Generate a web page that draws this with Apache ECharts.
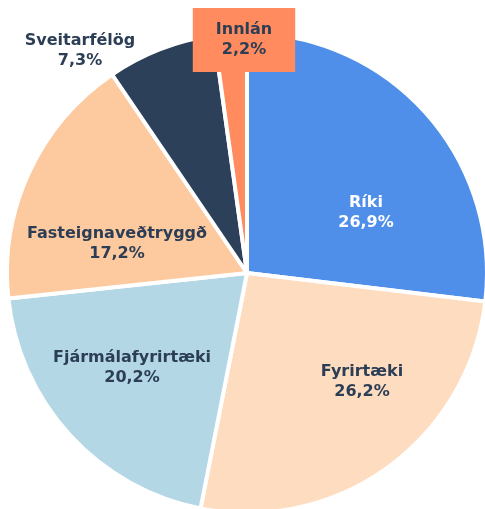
<!DOCTYPE html>
<html>
<head>
<meta charset="utf-8">
<script src="https://cdn.jsdelivr.net/npm/echarts@6/dist/echarts.min.js"></script>
<style>
  html, body { margin: 0; padding: 0; background: #fff; }
  #chart { width: 485px; height: 509px; }
</style>
</head>
<body>
<div id="chart"></div>
<script>
// Portfolio breakdown by counterparty type (percent)
const categories = ['Ríki', 'Fyrirtæki', 'Fjármálafyrirtæki', 'Fasteignaveðtryggð', 'Sveitarfélög', 'Innlán'];
const shares = [26.9, 26.2, 20.2, 17.2, 7.3, 2.2];

const sliceColors = ['#4F8FEA', '#FEDCC0', '#B4D7E6', '#FDC99E', '#2C4059', '#FF8B5E'];
const labelColors = ['#ffffff', '#2C3E55', '#2C3E55', '#2C3E55', '#2C3E55', '#2C3E55'];
// label anchor points in pixels
const labelSpots = [[366, 213], [362, 382], [132, 368], [117, 244], [80, 51], [244, 40]];

const fmt = v => v.toFixed(1).replace('.', ',') + '%';

const data = categories.map((name, i) => {
  const item = {
    name,
    value: shares[i],
    itemStyle: { color: sliceColors[i] },
    label: { color: labelColors[i] }
  };
  if (name === 'Innlán') {
    item.label = {
      color: labelColors[i],
      backgroundColor: '#FF8B5E',
      padding: [12, 23]
    };
  }
  return item;
});

const chart = echarts.init(document.getElementById('chart'), null, { renderer: 'canvas' });
chart.setOption({
  animation: false,
  series: [{
    type: 'pie',
    center: [247, 273],
    radius: 240,
    startAngle: 90,
    clockwise: true,
    data,
    itemStyle: { borderColor: '#ffffff', borderWidth: 4 },
    label: {
      show: true,
      position: 'inside',
      fontFamily: 'DejaVu Sans',
      fontWeight: 'bold',
      fontSize: 16,
      lineHeight: 20,
      align: 'center',
      verticalAlign: 'middle',
      formatter: p => p.name + '\n' + fmt(p.value)
    },
    labelLine: { show: false },
    labelLayout: p => ({ x: labelSpots[p.dataIndex][0], y: labelSpots[p.dataIndex][1], align: 'center', verticalAlign: 'middle' })
  }]
});
</script>
</body>
</html>
